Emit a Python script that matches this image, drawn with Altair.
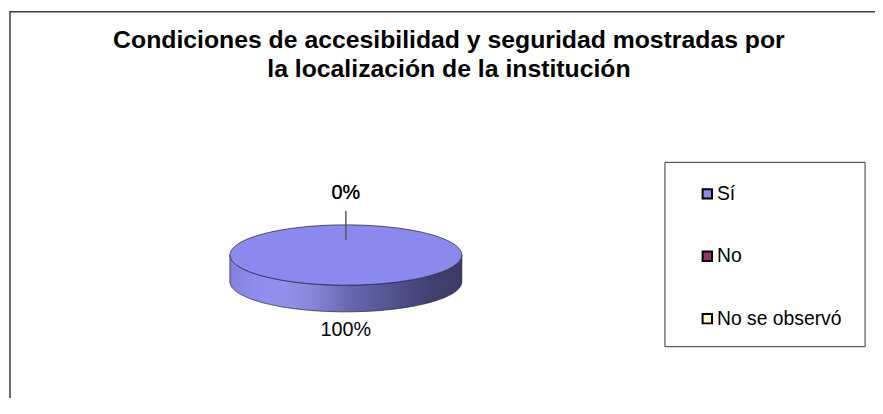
import math
import altair as alt
import pandas as pd

# ---- data ----
categories = ["Sí", "No", "No se observó"]
values = [100, 0, 0]
colors = ["#8A8AEE", "#993366", "#FFFFCC"]
label_texts = ["100%", "0%", "0%"]
title_lines = [
    "Condiciones de accesibilidad y seguridad mostradas por",
    "la localización de la institución",
]

FONT = "Liberation Sans"
TILT = 0.26   # vertical squash of the 3-D pie
DEPTH = 0.23  # thickness of the pie
N = 240

total = float(sum(values))
top_rows, side_rows, shade_rows, label_rows, leader_rows = [], [], [], [], []

start = 0.0
for cat, v, txt in zip(categories, values, label_texts):
    sweep = 360.0 * v / total
    end = start + sweep
    if sweep > 0:
        steps = max(2, int(N * sweep / 360))
        angs = [start + sweep * i / steps for i in range(steps + 1)]
        pts = [(math.sin(math.radians(a)), TILT * math.cos(math.radians(a))) for a in angs]
        if sweep < 360:
            pts = [(0.0, 0.0)] + pts + [(0.0, 0.0)]
        for i, (x, y) in enumerate(pts):
            top_rows.append(dict(cat=cat, i=i, x=x, y=y))
        lo, hi = max(start, 90.0), min(end, 270.0)
        if hi > lo:
            s = max(2, int(N * (hi - lo) / 360))
            for i in range(s + 1):
                a = math.radians(lo + (hi - lo) * i / s)
                yy = TILT * math.cos(a)
                side_rows.append(dict(cat=cat, x=math.sin(a), y=yy, y2=yy - DEPTH))
    mid = math.radians((start + end) / 2.0)
    share = v / total
    if share < 0.03:
        leader_rows.append(dict(cat=cat,
                                x=math.sin(mid) * 0.5, y=math.cos(mid) * (TILT - 0.128),
                                x2=math.sin(mid) * 1.1, y2=math.cos(mid) * (TILT + 0.12)))
        label_rows.append(dict(cat=cat, text=txt, x=math.sin(mid) * 1.2,
                               y=math.cos(mid) * (TILT + 0.274)))
    else:
        c = math.cos(mid)
        label_rows.append(dict(cat=cat, text=txt, x=math.sin(mid) * 1.2,
                               y=c * (TILT + 0.16) - (DEPTH if c < 0 else 0.0)))
    start = end

# full front side used for shading overlay
for i in range(N + 1):
    a = math.radians(90 + 180.0 * i / N)
    yy = TILT * math.cos(a)
    shade_rows.append(dict(x=math.sin(a), y=yy, y2=yy - DEPTH))

top_df = pd.DataFrame(top_rows)
side_df = pd.DataFrame(side_rows)
shade_df = pd.DataFrame(shade_rows)
label_df = pd.DataFrame(label_rows)
leader_df = pd.DataFrame(leader_rows)

xs = alt.Scale(domain=[-1, 1], range=[224, 458])
ys = alt.Scale(domain=[-1, 1], range=[364.5, 130.5])
X = alt.X("x:Q", scale=xs, axis=None)
Y = alt.Y("y:Q", scale=ys, axis=None)

legend = alt.Legend(
    orient="none", legendX=696, legendY=176, title=None,
    symbolType="square", symbolSize=90, symbolStrokeColor="black",
    symbolStrokeWidth=2, symbolOpacity=1,
    labelFont=FONT, labelFontSize=19.5, labelColor="black",
    rowPadding=42, labelOffset=0, padding=0,
)
color = alt.Color("cat:N", scale=alt.Scale(domain=categories, range=colors), legend=legend)

border = alt.Chart(pd.DataFrame({"k": [0]})).mark_rect(
    filled=False, stroke="#3c3c3c", strokeWidth=1.5
).encode(x=alt.value(2), x2=alt.value(900), y=alt.value(2), y2=alt.value(420))

legend_box = alt.Chart(pd.DataFrame({"k": [0]})).mark_rect(
    filled=False, stroke="#333333", strokeWidth=1
).encode(x=alt.value(663), x2=alt.value(865), y=alt.value(154), y2=alt.value(340))

t1 = alt.Chart(pd.DataFrame({"t": [title_lines[0]]})).mark_text(
    font=FONT, fontSize=25, fontWeight="bold", color="black", align="center", baseline="alphabetic"
).encode(text="t:N", x=alt.value(445), y=alt.value(39))
t2 = alt.Chart(pd.DataFrame({"t": [title_lines[1]]})).mark_text(
    font=FONT, fontSize=25, fontWeight="bold", color="black", align="center", baseline="alphabetic"
).encode(text="t:N", x=alt.value(445), y=alt.value(68))

side = alt.Chart(side_df).mark_area(opacity=1).encode(
    x=X, y=Y, y2="y2:Q", color=color, detail="cat:N"
)
shade = alt.Chart(shade_df).mark_area(
    color=alt.LinearGradient(
        gradient="linear", x1=0, x2=1, y1=0, y2=0,
        stops=[
            alt.GradientStop(offset=0, color="rgba(0,0,0,0.06)"),
            alt.GradientStop(offset=0.15, color="rgba(255,255,255,0.05)"),
            alt.GradientStop(offset=0.5, color="rgba(0,0,0,0.24)"),
            alt.GradientStop(offset=0.85, color="rgba(0,0,0,0.52)"),
            alt.GradientStop(offset=1, color="rgba(0,0,0,0.58)"),
        ],
    ),
    stroke="#2a2a40", strokeWidth=0.8,
).encode(x=X, y=Y, y2="y2:Q")

top = alt.Chart(top_df).mark_line(
    filled=True, stroke="#2a2a40", strokeWidth=0.8, opacity=1
).encode(x=X, y=Y, color=color, order="i:Q", detail="cat:N")

leader = alt.Chart(leader_df).mark_rule(color="#555555", strokeWidth=1).encode(
    x=X, y=Y, x2="x2:Q", y2="y2:Q"
)

labels = alt.Chart(label_df).mark_text(
    font=FONT, fontSize=20, color="black", align="center", baseline="middle"
).encode(x=X, y=Y, text="text:N")

chart = alt.layer(
    border, legend_box, t1, t2, side, shade, top, leader, labels
).properties(
    width=875, height=390, autosize=alt.AutoSizeParams(type="none"), padding=0,
    background="white",
).configure_view(strokeWidth=0)

chart.save("out.html", embed_options={"renderer": "svg", "actions": False})
